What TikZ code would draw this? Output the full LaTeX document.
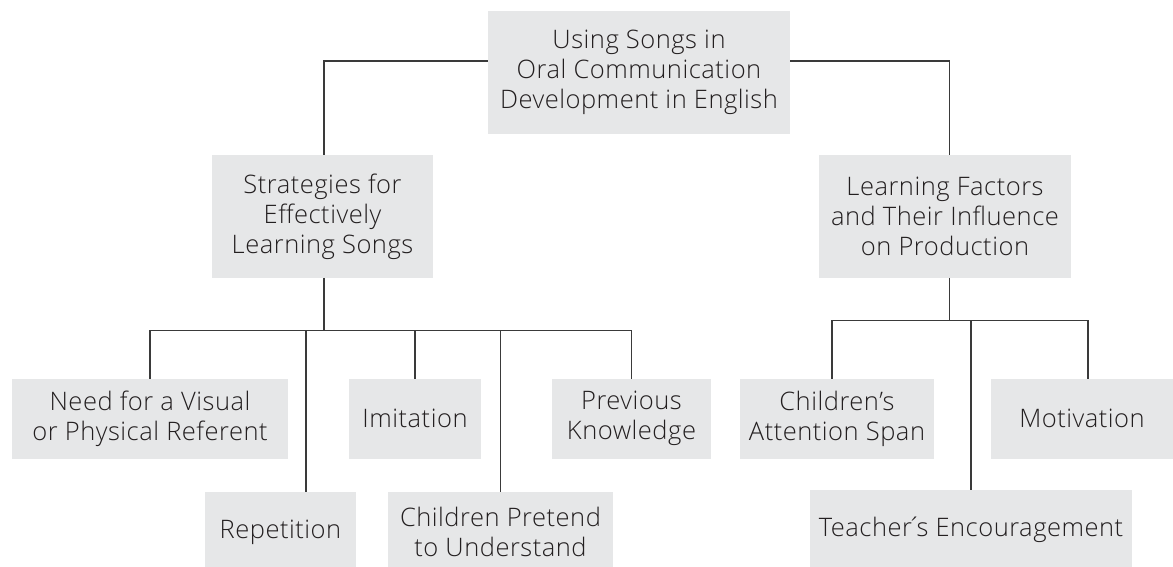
\documentclass[tikz,border=0pt]{standalone}
\usepackage{fontspec}
\setmainfont{Open Sans Light}[LetterSpace=2]
\usetikzlibrary{calc}
\definecolor{boxgray}{HTML}{E6E7E8}
\definecolor{txt}{HTML}{231F20}
\definecolor{ln}{HTML}{3A3A3A}
\begin{document}
\begin{tikzpicture}[x=1pt,y=-1pt,
  box/.style={fill=boxgray, inner sep=0pt, align=center, text=txt,
    font=\fontsize{25.5}{30}\selectfont},
  conn/.style={draw=ln, line width=1.1pt}]
\useasboundingbox[fill=white] (0,0) rectangle (1173,566);
% level 0
\node[box, minimum width=302pt, minimum height=122.7pt] (top) at (639,72.3)
  {Using Songs in\\Oral Communication\\Development in English};
% level 1
\node[box, minimum width=221pt, minimum height=122.7pt] (strat) at (322.5,216.3)
  {Strategies for\\Effectively\\Learning Songs};
\node[box, minimum width=252pt, minimum height=122.7pt] (learn) at (945,216.3)
  {Learning Factors\\and Their Influence\\on Production};
% level 2 left
\node[box, minimum width=276pt, minimum height=79.7pt] (need) at (150,418.8)
  {Need for a Visual\\or Physical Referent};
\node[box, minimum width=132pt, minimum height=79.7pt] (imit) at (415,418.8)
  {Imitation};
\node[box, minimum width=159pt, minimum height=79.7pt] (prev) at (631.5,418.8)
  {Previous\\Knowledge};
\node[box, minimum width=151pt, minimum height=80pt] (rep) at (280.5,532)
  {Repetition};
\node[box, minimum width=225pt, minimum height=80pt] (pret) at (500.5,532)
  {Children Pretend\\to Understand};
% level 2 right
\node[box, minimum width=194pt, minimum height=79.7pt] (child) at (837,418.8)
  {Children’s\\Attention Span};
\node[box, minimum width=182pt, minimum height=79.7pt] (motiv) at (1082,418.8)
  {Motivation};
\node[box, minimum width=322pt, minimum height=80pt] (teach) at (971,530)
  {Teacher\kern-0.2em´\kern-0.2em s Encouragement};
% connectors top
\coordinate (tl) at ($(top.west)+(0,-11.3)$);
\coordinate (tr) at ($(top.east)+(0,-11.3)$);
\draw[conn] (tl) -| ([xshift=1.5pt]strat.north);
\draw[conn] (tr) -| ([xshift=4.5pt]learn.north);
% left bus
\coordinate (b1) at ($([xshift=1.5pt]strat.south)+(0,52.3)$);
\draw[conn] ([xshift=1.5pt]strat.south) -- (b1);
\draw[conn] (need.north) |- (prev.north |- b1) -- (prev.north);
\draw[conn] (imit.north) -- (imit.north |- b1);
\draw[conn] ([xshift=25.5pt]rep.north) -- ([xshift=25.5pt]rep.north |- b1);
\draw[conn] (pret.north) -- (pret.north |- b1);
% right bus
\coordinate (b2) at ($([xshift=4.5pt]learn.south)+(0,43)$);
\draw[conn] ([xshift=4.5pt]learn.south) -- (b2);
\draw[conn] ([xshift=-5pt]child.north) |- ([xshift=6pt]motiv.north |- b2) -- ([xshift=6pt]motiv.north);
\draw[conn] (teach.north) -- (teach.north |- b2);
\end{tikzpicture}
\end{document}
